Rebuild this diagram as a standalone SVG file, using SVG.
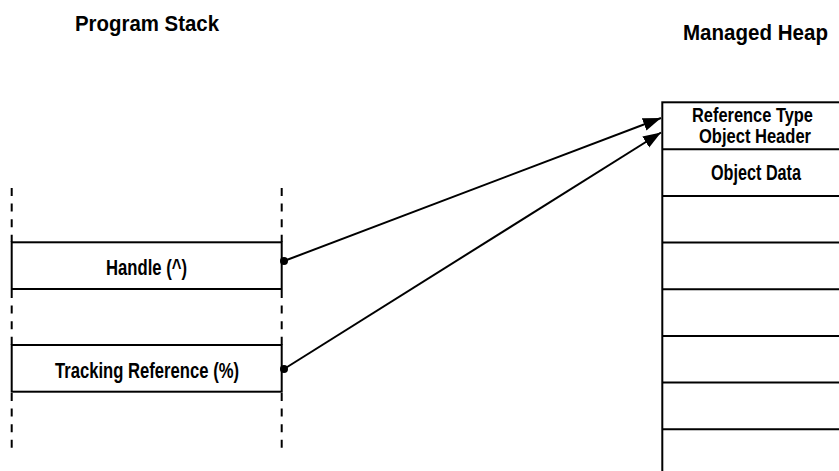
<svg xmlns="http://www.w3.org/2000/svg" width="839" height="471" viewBox="0 0 839 471">
  <style>
    .t { font-family: "Liberation Sans Narrow", "Liberation Sans", Arial, sans-serif; font-size: 21.5px; font-weight: bold; fill: #000; }
    .h { font-size: 22px; }
    .s { font-size: 20px; }
    .box { fill: #fff; stroke: #000; stroke-width: 2; }
    .dash { stroke: #000; stroke-width: 2; stroke-dasharray: 8 7.6; fill: none; }
    .ln { stroke: #000; stroke-width: 2; fill: none; }
    .conn { stroke: #000; stroke-width: 2; fill: none; marker-end: url(#arrow); }
  </style>
  <defs>
    <marker id="arrow" markerUnits="userSpaceOnUse" markerWidth="19" markerHeight="14" refX="18" refY="7" orient="auto">
      <path d="M0,0.5 L18,7 L0,13.5 z" fill="#000"/>
    </marker>
  </defs>
  <rect width="839" height="471" fill="#fff"/>

  <g id="title-stack">
    <text class="t h" x="75" y="31" textLength="144" lengthAdjust="spacingAndGlyphs">Program Stack</text>
  </g>
  <g id="title-heap">
    <text class="t h" x="755.5" y="40" text-anchor="middle" textLength="145" lengthAdjust="spacingAndGlyphs">Managed Heap</text>
  </g>

  <g id="stack">
    <line class="dash" x1="11.7" y1="188" x2="11.7" y2="242"/>
    <line class="dash" x1="281.7" y1="188" x2="281.7" y2="242"/>
    <line class="dash" x1="11.7" y1="290" x2="11.7" y2="345"/>
    <line class="dash" x1="281.7" y1="290" x2="281.7" y2="345"/>
    <line class="dash" x1="11.7" y1="393" x2="11.7" y2="448"/>
    <line class="dash" x1="281.7" y1="393" x2="281.7" y2="448"/>
  </g>

  <g id="handle">
    <rect class="box" x="11.7" y="242.3" width="270" height="46.7"/>
    <text class="t" x="106" y="274.5" textLength="81" lengthAdjust="spacingAndGlyphs">Handle (^)</text>
  </g>

  <g id="tracking-reference">
    <rect class="box" x="11.7" y="345" width="270" height="46.7"/>
    <text class="t" x="55" y="377.5" textLength="184" lengthAdjust="spacingAndGlyphs">Tracking Reference (%)</text>
  </g>

  <g id="heap">
    <rect class="box" x="662.3" y="102.3" width="200" height="400"/>
    <line class="ln" x1="662.3" y1="149.3" x2="839" y2="149.3"/>
    <line class="ln" x1="662.3" y1="196" x2="839" y2="196"/>
    <line class="ln" x1="662.3" y1="242.5" x2="839" y2="242.5"/>
    <line class="ln" x1="662.3" y1="289.2" x2="839" y2="289.2"/>
    <line class="ln" x1="662.3" y1="335.9" x2="839" y2="335.9"/>
    <line class="ln" x1="662.3" y1="382.6" x2="839" y2="382.6"/>
    <line class="ln" x1="662.3" y1="429.3" x2="839" y2="429.3"/>
    <text class="t s" x="692" y="121.5" textLength="121" lengthAdjust="spacingAndGlyphs">Reference Type</text>
    <text class="t s" x="699" y="142.5" textLength="112" lengthAdjust="spacingAndGlyphs">Object Header</text>
    <text class="t" x="711" y="179.5" textLength="90" lengthAdjust="spacingAndGlyphs">Object Data</text>
  </g>

  <g id="connectors">
    <line class="conn" x1="284" y1="261" x2="661" y2="118"/>
    <circle cx="284" cy="261" r="4" fill="#000"/>
    <line class="conn" x1="284" y1="369" x2="661" y2="132.5"/>
    <circle cx="284" cy="369" r="4" fill="#000"/>
  </g>
</svg>
